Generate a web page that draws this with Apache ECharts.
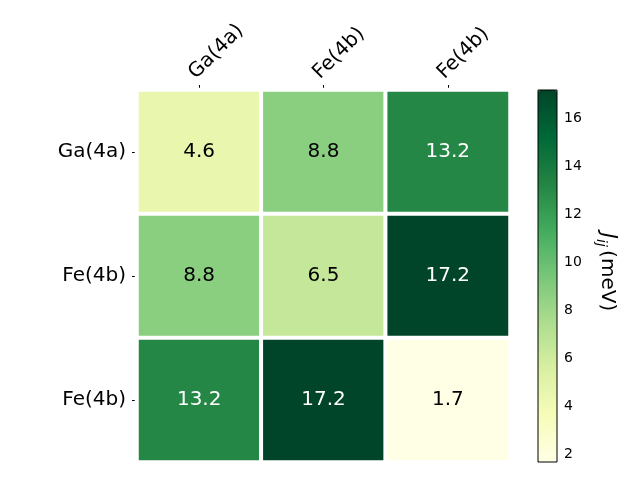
<!DOCTYPE html>
<html>
<head>
<meta charset="utf-8">
<script src="https://cdn.jsdelivr.net/npm/echarts@6/dist/echarts.min.js"></script>
<style>
  html, body { margin: 0; padding: 0; background: #fff; }
  #chart { width: 640px; height: 480px; }
</style>
</head>
<body>
<div id="chart"></div>
<script>
// sites along both axes
const colLabels = ["Ga(4a)", "Fe(4b)", "Fe(4b)"];
const rowLabels = ["Ga(4a)", "Fe(4b)", "Fe(4b)"];
// exchange J_ij (meV), one row per rowLabels entry
const jRows = [
  [4.6, 8.8, 13.2],
  [8.8, 6.5, 17.2],
  [13.2, 17.2, 1.7]
];
const cbMin = 1.7;
const cbMax = 17.2;
const cbTicks = [2, 4, 6, 8, 10, 12, 14, 16];

// matplotlib YlGn
const ylGn = ["#ffffe5", "#f7fcb9", "#d9f0a3", "#addd8e", "#78c679",
  "#41ab5d", "#238443", "#006837", "#004529"];

const font = "DejaVu Sans";

let cells = [];
for (let r = 0; r < jRows.length; r++) {
  for (let c = 0; c < jRows[r].length; c++) {
    let v = jRows[r][c];
    cells.push({
      value: [c, r, v],
      label: { color: v > 10 ? "#fff" : "#000" }
    });
  }
}

let chart = echarts.init(document.getElementById("chart"));
let option = {
  animation: false,
  textStyle: { fontFamily: font },
  grid: [
    { left: 137, top: 90, width: 373, height: 372 },
    {
      left: 538, top: 90, width: 19, height: 372, z: 10,
      show: true, borderColor: "#000", borderWidth: 1, backgroundColor: "transparent"
    }
  ],
  xAxis: [
    {
      type: "category",
      data: colLabels,
      position: "top",
      gridIndex: 0,
      axisLine: { show: false },
      axisTick: { show: true, alignWithLabel: true, length: 5, lineStyle: { color: "#000", width: 1 } },
      axisLabel: {
        rotate: -45, fontSize: 20, color: "#000", margin: 7, fontFamily: font,
        verticalAlign: "bottom"
      },
      splitLine: { show: false }
    },
    { type: "value", gridIndex: 1, show: false, min: 0, max: 1 }
  ],
  yAxis: [
    {
      type: "category",
      data: rowLabels,
      inverse: true,
      gridIndex: 0,
      axisLine: { show: false },
      axisTick: { show: true, alignWithLabel: true, length: 5, lineStyle: { color: "#000", width: 1 } },
      axisLabel: { fontSize: 20, color: "#000", margin: 11, fontFamily: font },
      splitLine: { show: false }
    },
    {
      type: "value",
      gridIndex: 1,
      position: "right",
      min: cbMin,
      max: cbMax,
      axisLine: { show: false },
      splitLine: { show: false },
      axisTick: {
        show: true, length: 4, customValues: cbTicks,
        lineStyle: { color: "#000" }
      },
      axisLabel: {
        fontSize: 14, color: "#000", margin: 7, fontFamily: font,
        customValues: cbTicks
      }
    }
  ],
  visualMap: {
    type: "continuous",
    min: cbMin,
    max: cbMax,
    seriesIndex: 0,
    calculable: false,
    hoverLink: false,
    orient: "vertical",
    left: 538,
    top: 90,
    itemWidth: 19,
    itemHeight: 372,
    padding: 0,
    text: null,
    showLabel: false,
    inRange: { color: ylGn }
  },
  graphic: [
    {
      type: "text",
      x: 607,
      y: 272,
      rotation: -Math.PI / 2,
      style: {
        text: "{j|J}{s|ij} {n|(meV)}",
        align: "center",
        verticalAlign: "middle",
        rich: {
          j: { fontSize: 21, fontStyle: "italic", fontFamily: font, fill: "#000", lineHeight: 26 },
          s: { fontSize: 14, fontStyle: "italic", fontFamily: font, fill: "#000", verticalAlign: "bottom", lineHeight: 26, padding: [8, 0, 0, 0] },
          n: { fontSize: 20, fontFamily: font, fill: "#000", lineHeight: 26 }
        }
      }
    }
  ],
  series: [
    {
      type: "heatmap",
      xAxisIndex: 0,
      yAxisIndex: 0,
      data: cells,
      itemStyle: { borderColor: "#fff", borderWidth: 4 },
      label: {
        show: true,
        fontSize: 20,
        fontFamily: font,
        formatter: function (p) {
          return p.value[2].toFixed(1);
        }
      },
      emphasis: { disabled: true }
    }
  ]
};
chart.setOption(option);
</script>
</body>
</html>
